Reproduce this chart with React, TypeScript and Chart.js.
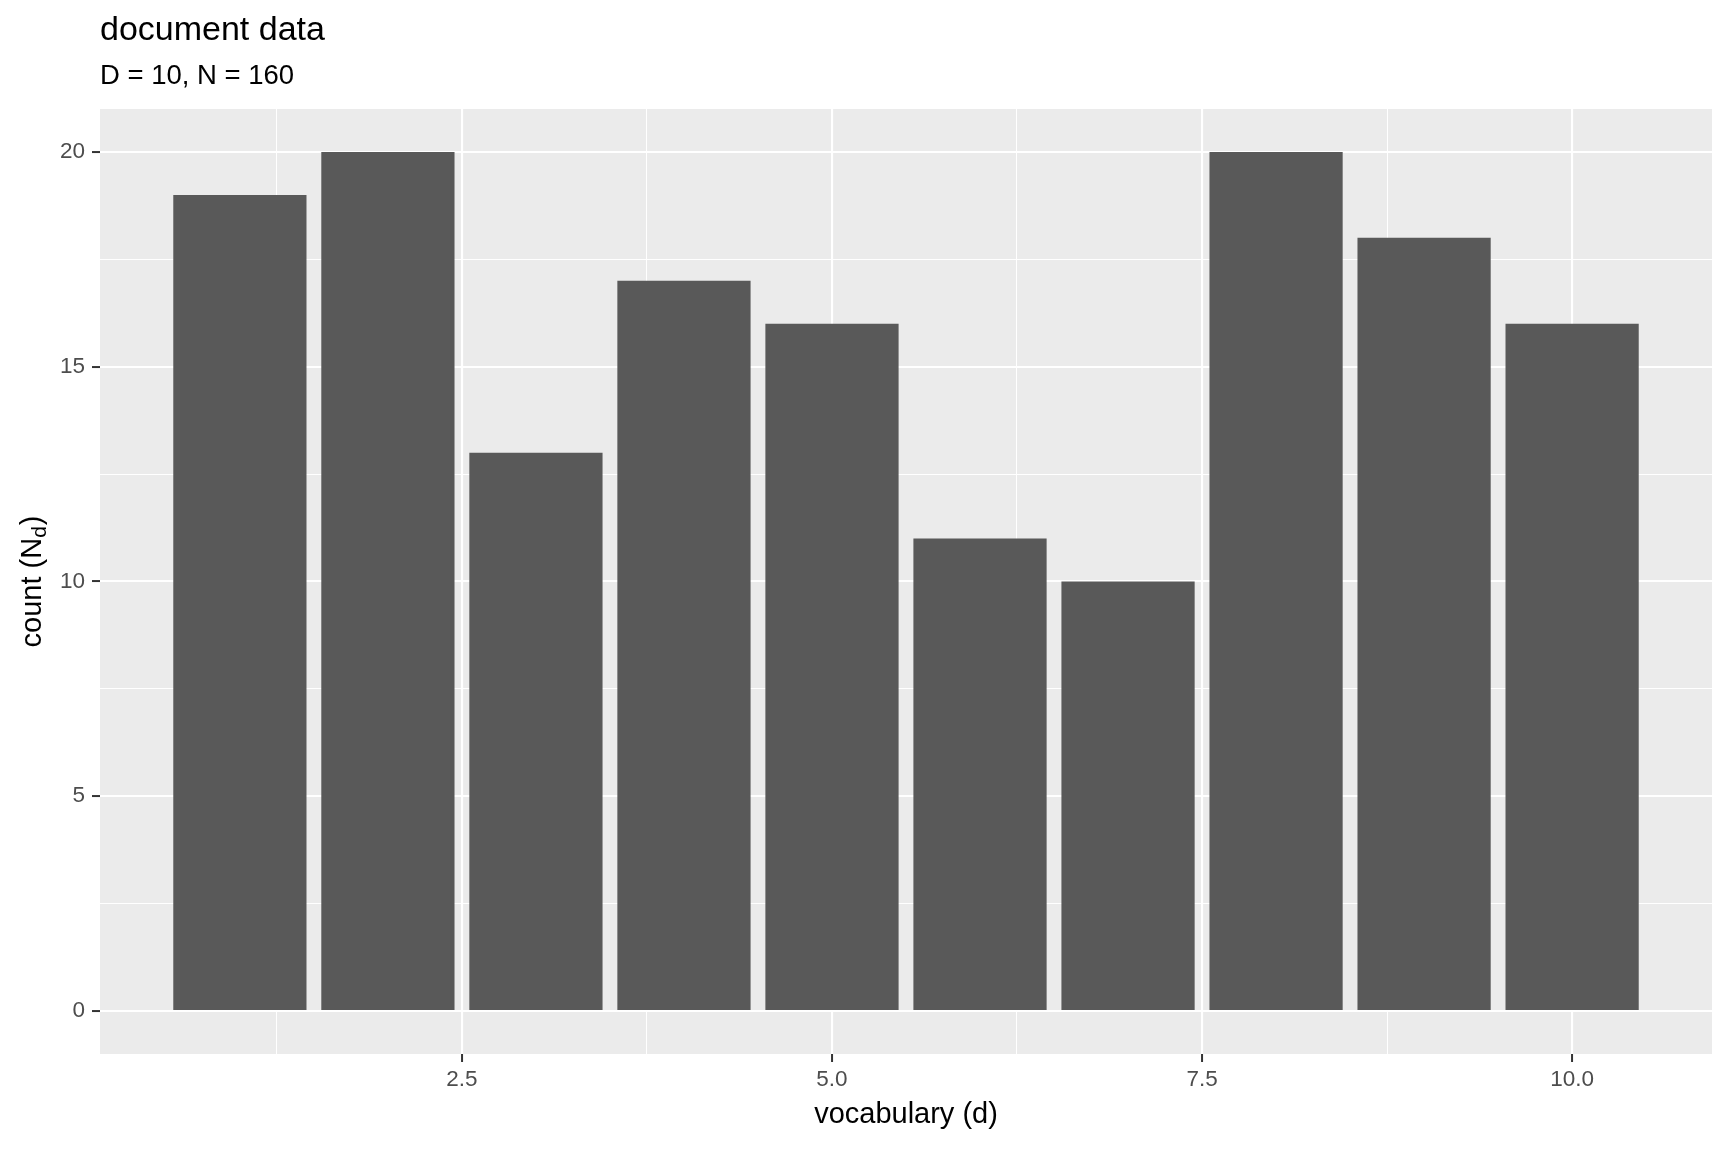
import React, { useEffect, useRef } from 'react';
import { Chart, registerables } from 'chart.js';

Chart.register(...registerables);

// ---- data ----
const vocabulary = [1, 2, 3, 4, 5, 6, 7, 8, 9, 10];
const counts = [19, 20, 13, 17, 16, 11, 10, 20, 18, 16];
const xMajorTicks = [2.5, 5, 7.5, 10];
const xMinorTicks = [1.25, 3.75, 6.25, 8.75];
const yMajorTicks = [0, 5, 10, 15, 20];
const yMinorTicks = [2.5, 7.5, 12.5, 17.5];
const titleText = 'document data';
const subtitleText = 'D = 10, N = 160';
const xAxisTitle = 'vocabulary (d)';
const yAxisTitleMain = 'count (N';
const yAxisTitleSub = 'd';
const yAxisTitleEnd = ')';

const FONT = '"Liberation Sans", Arial, sans-serif';

const isIn = (arr: number[], v: number) => arr.some((a) => Math.abs(a - v) < 1e-9);

const bgPlugin = {
  id: 'ggBackground',
  beforeDraw(chart: any) {
    const { ctx, chartArea } = chart;
    ctx.save();
    ctx.fillStyle = '#FFFFFF';
    ctx.fillRect(0, 0, chart.width, chart.height);
    ctx.fillStyle = '#EBEBEB';
    ctx.fillRect(chartArea.left, chartArea.top, chartArea.right - chartArea.left, chartArea.bottom - chartArea.top);
    ctx.restore();
  },
};

const textPlugin = {
  id: 'ggText',
  afterDraw(chart: any) {
    const { ctx, chartArea } = chart;
    ctx.save();
    ctx.fillStyle = '#000000';
    ctx.textBaseline = 'alphabetic';
    // title
    ctx.textAlign = 'left';
    ctx.font = `34px ${FONT}`;
    ctx.fillText(titleText, chartArea.left, 40);
    // subtitle
    ctx.font = `27.5px ${FONT}`;
    ctx.fillText(subtitleText, chartArea.left, 84);
    // x axis title
    ctx.textAlign = 'center';
    ctx.font = `29px ${FONT}`;
    ctx.fillText(xAxisTitle, (chartArea.left + chartArea.right) / 2, 1123);
    // y axis title (rotated, with subscript)
    const cy = (chartArea.top + chartArea.bottom) / 2;
    ctx.translate(41, cy);
    ctx.rotate(-Math.PI / 2);
    ctx.textAlign = 'left';
    const mainFont = `29px ${FONT}`;
    const subFont = `21px ${FONT}`;
    ctx.font = mainFont;
    const w1 = ctx.measureText(yAxisTitleMain).width;
    const w3 = ctx.measureText(yAxisTitleEnd).width;
    ctx.font = subFont;
    const w2 = ctx.measureText(yAxisTitleSub).width;
    const total = w1 + w2 + 1 + w3;
    let x = -total / 2;
    ctx.font = mainFont;
    ctx.fillText(yAxisTitleMain, x, 0);
    x += w1;
    ctx.font = subFont;
    ctx.fillText(yAxisTitleSub, x, 5);
    x += w2 + 1;
    ctx.font = mainFont;
    ctx.fillText(yAxisTitleEnd, x, 0);
    ctx.restore();
  },
};

export default function App() {
  const canvasRef = useRef<HTMLCanvasElement | null>(null);

  useEffect(() => {
    if (!canvasRef.current) return;
    const chart = new Chart(canvasRef.current, {
      type: 'bar',
      data: {
        datasets: [
          {
            data: vocabulary.map((v, i) => ({ x: v, y: counts[i] })) as any,
            backgroundColor: '#595959',
            borderWidth: 0,
            barPercentage: 0.9,
            categoryPercentage: 1,
          },
        ],
      },
      options: {
        animation: false,
        responsive: false,
        devicePixelRatio: 1,
        layout: { padding: { top: 109, right: 16, left: 0, bottom: 0 } },
        plugins: {
          legend: { display: false },
          tooltip: { enabled: false },
          title: { display: false },
        },
        scales: {
          x: {
            type: 'linear',
            min: 0.055,
            max: 10.945,
            offset: false,
            afterBuildTicks: (s: any) => {
              s.ticks = [...xMinorTicks, ...xMajorTicks].sort((a, b) => a - b).map((v) => ({ value: v }));
            },
            afterFit: (s: any) => {
              s.height = 98;
            },
            border: { display: false },
            grid: {
              offset: false,
              color: '#FFFFFF',
              lineWidth: (c: any) => (c.tick && isIn(xMajorTicks, c.tick.value) ? 2.1 : 1.05),
              tickColor: (c: any) => (c.tick && isIn(xMajorTicks, c.tick.value) ? '#333333' : 'rgba(0,0,0,0)'),
              tickWidth: 2,
              tickLength: 8,
            },
            ticks: {
              autoSkip: false,
              maxRotation: 0,
              padding: 4,
              color: '#4D4D4D',
              font: { family: FONT, size: 22.5 },
              callback: (v: any) => (isIn(xMajorTicks, Number(v)) ? Number(v).toFixed(1) : ''),
            },
          },
          y: {
            type: 'linear',
            min: -1,
            max: 21,
            afterBuildTicks: (s: any) => {
              s.ticks = [...yMinorTicks, ...yMajorTicks].sort((a, b) => a - b).map((v) => ({ value: v }));
            },
            afterFit: (s: any) => {
              s.width = 100;
            },
            border: { display: false },
            grid: {
              color: '#FFFFFF',
              lineWidth: (c: any) => (c.tick && isIn(yMajorTicks, c.tick.value) ? 2.1 : 1.05),
              tickColor: (c: any) => (c.tick && isIn(yMajorTicks, c.tick.value) ? '#333333' : 'rgba(0,0,0,0)'),
              tickWidth: 2,
              tickLength: 8,
            },
            ticks: {
              autoSkip: false,
              padding: 7,
              color: '#4D4D4D',
              font: { family: FONT, size: 22.5 },
              callback: (v: any) => (isIn(yMajorTicks, Number(v)) ? String(v) : ''),
            },
          },
        },
      } as any,
      plugins: [bgPlugin, textPlugin],
    });
    return () => chart.destroy();
  }, []);

  return (
    <div style={{ position: 'absolute', left: 0, top: 0, width: 1728, height: 1152 }}>
      <canvas ref={canvasRef} width={1728} height={1152} style={{ width: 1728, height: 1152 }} />
    </div>
  );
}
